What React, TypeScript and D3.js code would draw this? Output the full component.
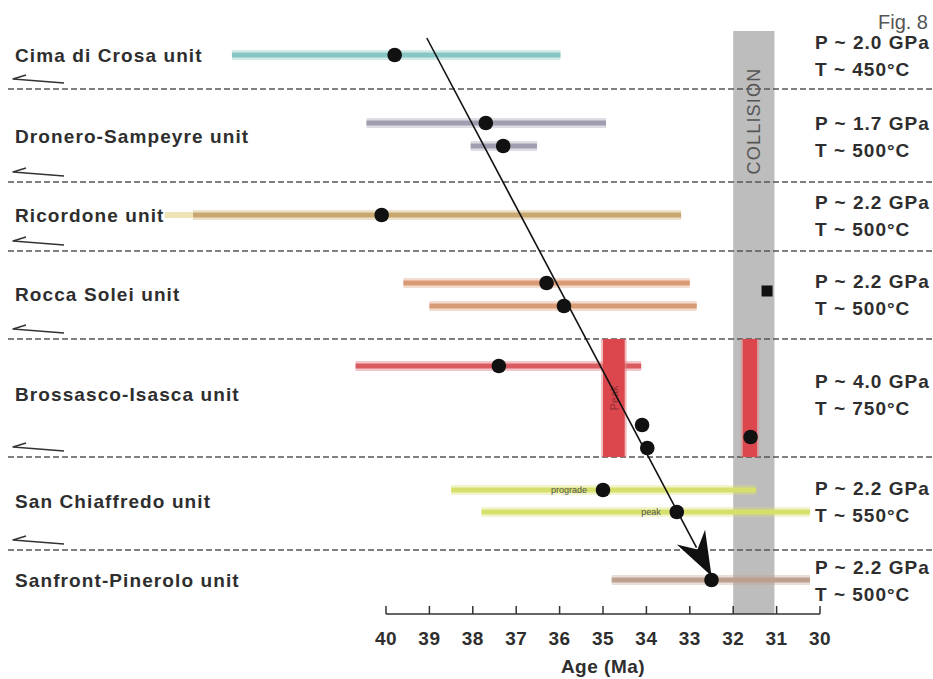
import React from "react";
import * as d3 from "d3";

// Tectonic units (top to bottom) with their peak P–T conditions
const units = [
  "Cima di Crosa unit",
  "Dronero-Sampeyre unit",
  "Ricordone unit",
  "Rocca Solei unit",
  "Brossasco-Isasca unit",
  "San Chiaffredo unit",
  "Sanfront-Pinerolo unit",
];
const pressures = ["2.0", "1.7", "2.2", "2.2", "4.0", "2.2", "2.2"];
const temperatures = [450, 500, 500, 500, 750, 550, 500];

// Age ranges (Ma): owning unit, oldest, youngest, best estimate
const rangeUnit = [0, 1, 1, 2, 3, 3, 4, 5, 5, 6];
const rangeOld = [43.55, 40.45, 38.05, 44.45, 39.6, 39.0, 40.7, 38.5, 37.8, 34.8];
const rangeYoung = [35.98, 34.93, 36.52, 33.2, 33.0, 32.84, 34.12, 31.47, 30.23, 30.23];
const rangeBest = [39.8, 37.7, 37.3, 40.1, 36.3, 35.9, 37.4, 35.0, 33.3, 32.5];
const rangeNote = ["", "", "", "", "", "", "", "prograde", "peak", ""];

// Isolated age determinations in the Brossasco-Isasca unit
const pointAges = [34.1, 33.98, 31.6];
// Square marker (Rocca Solei unit)
const squareAge = 31.22;
// Vertical age intervals spanning the Brossasco-Isasca unit
const intervalOld = [35.0, 31.78];
const intervalYoung = [34.5, 31.45];
// Collision interval
const collisionOld = 32.0;
const collisionYoung = 31.05;
// Exhumation trend arrow (start and end ages)
const trendStartAge = 39.06;
const trendEndAge = 32.5;

const ageTicks = [40, 39, 38, 37, 36, 35, 34, 33, 32, 31, 30];

// Layout
const W = 933;
const H = 679;
const sepY = [89, 182, 251, 339, 457, 550];
const rowCenter = [55, 136, 215, 294, 394, 501, 580];
const rangeY = [55, 123, 146, 215, 283, 306, 366, 490, 512, 580];
const pointY = [425, 448, 437];
const axisY = 614;
const bandTop = 31;

const barColors = [
  "#86c6c4",
  "#a19db0",
  "#a19db0",
  "#c9a86f",
  "#d99a76",
  "#d99a76",
  "#d95a60",
  "#d8e06c",
  "#d8e06c",
  "#bda08e",
];

const labelFont = "'Liberation Sans', Arial, sans-serif";

export default function App() {
  const x = d3.scaleLinear().domain([40, 30]).range([386, 820]);

  // trend arrow geometry
  const tx0 = x(trendStartAge);
  const ty0 = 38;
  const tx1 = x(trendEndAge);
  const ty1 = 576;
  const len = Math.hypot(tx1 - tx0, ty1 - ty0);
  const ux = (tx1 - tx0) / len;
  const uy = (ty1 - ty0) / len;
  const nx = -uy;
  const ny = ux;
  const headLen = 44;
  const headHalf = 16;
  const head = [
    [tx1, ty1],
    [tx1 - headLen * ux + headHalf * nx, ty1 - headLen * uy + headHalf * ny],
    [tx1 - 30 * ux, ty1 - 30 * uy],
    [tx1 - headLen * ux - headHalf * nx, ty1 - headLen * uy - headHalf * ny],
  ];
  const headPath = d3.line()(head as [number, number][]) + "Z";

  return (
    <svg width={W} height={H} style={{ display: "block", position: "absolute", left: 0, top: 0 }}>
      <rect width={W} height={H} fill="#ffffff" />

      {/* collision band */}
      <rect
        x={x(collisionOld)}
        y={bandTop}
        width={x(collisionYoung) - x(collisionOld)}
        height={axisY - bandTop}
        fill="#bdbdbd"
      />
      <text
        transform={`translate(${(x(collisionOld) + x(collisionYoung)) / 2 + 6},121) rotate(-90)`}
        textAnchor="middle"
        fontFamily={labelFont}
        fontSize={18}
        letterSpacing={1.2}
        fill="#555"
      >
        COLLISION
      </text>

      {/* unit separators with sense-of-shear harpoons */}
      {sepY.map((y, i) => (
        <g key={"sep" + i}>
          <line x1={8} x2={W} y1={y} y2={y} stroke="#555" strokeWidth={1.6} strokeDasharray="6 3" />
          <path
            d={`M26,${y - 14} L13,${y - 10} L64,${y - 6}`}
            fill="none"
            stroke="#333"
            strokeWidth={1.4}
            strokeLinejoin="round"
          />
        </g>
      ))}

      {/* age ranges */}
      {rangeUnit.map((u, i) => (
        <g key={"rg" + i}>
          <line
            x1={x(rangeOld[i])}
            x2={x(rangeYoung[i])}
            y1={rangeY[i]}
            y2={rangeY[i]}
            stroke={barColors[i]}
            strokeOpacity={0.35}
            strokeWidth={10}
          />
          <line
            x1={x(rangeOld[i])}
            x2={x(rangeYoung[i])}
            y1={rangeY[i]}
            y2={rangeY[i]}
            stroke={barColors[i]}
            strokeWidth={5}
          />
        </g>
      ))}
      {/* faint older tail of the Ricordone range */}
      <line x1={x(45.1)} x2={x(44.45)} y1={215} y2={215} stroke="#eee4b8" strokeWidth={6} />

      {/* vertical intervals */}
      {intervalOld.map((a, i) => (
        <g key={"iv" + i}>
          <rect
            x={x(a) - 2}
            y={sepY[3]}
            width={x(intervalYoung[i]) - x(a) + 4}
            height={sepY[4] - sepY[3]}
            fill="#e88a8c"
            opacity={0.55}
          />
          <rect
            x={x(a)}
            y={sepY[3]}
            width={x(intervalYoung[i]) - x(a)}
            height={sepY[4] - sepY[3]}
            fill="#dc474e"
          />
        </g>
      ))}
      <text
        transform={`translate(${(x(intervalOld[0]) + x(intervalYoung[0])) / 2 + 4},398) rotate(-90)`}
        textAnchor="middle"
        fontFamily={labelFont}
        fontSize={11}
        fill="#8e2f33"
      >
        Peak
      </text>

      {/* range notes */}
      {rangeNote.map((n, i) =>
        n ? (
          <text
            key={"nt" + i}
            x={x(rangeBest[i]) - 16}
            y={rangeY[i] + 3}
            textAnchor="end"
            fontFamily={labelFont}
            fontSize={9}
            fill="#555"
          >
            {n}
          </text>
        ) : null
      )}

      {/* trend arrow */}
      <line x1={tx0} y1={ty0} x2={tx1 - 32 * ux} y2={ty1 - 32 * uy} stroke="#111" strokeWidth={1.6} />
      <path d={headPath} fill="#111" />

      {/* best-estimate ages */}
      {rangeBest.map((a, i) => (
        <circle key={"bd" + i} cx={x(a)} cy={rangeY[i]} r={7.3} fill="#111" />
      ))}
      {pointAges.map((a, i) => (
        <circle key={"pt" + i} cx={x(a)} cy={pointY[i]} r={7.3} fill="#111" />
      ))}
      <rect x={x(squareAge) - 5.5} y={285.5} width={11} height={11} fill="#111" />

      {/* unit names */}
      {units.map((u, i) => (
        <text
          key={"un" + i}
          x={15}
          y={rowCenter[i]}
          dy="0.36em"
          fontFamily={labelFont}
          fontWeight="bold"
          fontSize={19}
          letterSpacing={1.1}
          fill="#2e2e2e"
        >
          {u}
        </text>
      ))}

      {/* P–T conditions */}
      {units.map((u, i) => (
        <g key={"pt" + i} fontFamily={labelFont} fontWeight="bold" fontSize={19} letterSpacing={1} fill="#2e2e2e">
          <text x={815} y={rowCenter[i] - 13} dy="0.36em">{`P ~ ${pressures[i]} GPa`}</text>
          <text x={815} y={rowCenter[i] + 14} dy="0.36em">{`T ~ ${temperatures[i]}°C`}</text>
        </g>
      ))}

      <text x={928} y={29} textAnchor="end" fontFamily={labelFont} fontSize={20} fill="#555">
        Fig. 8
      </text>

      {/* age axis */}
      <line x1={x(40)} x2={x(30)} y1={axisY} y2={axisY} stroke="#333" strokeWidth={1.5} />
      {ageTicks.map((t) => (
        <g key={"tk" + t}>
          <line x1={x(t)} x2={x(t)} y1={axisY} y2={axisY - 8} stroke="#333" strokeWidth={1.5} />
          <text
            x={x(t)}
            y={638}
            dy="0.36em"
            textAnchor="middle"
            fontFamily={labelFont}
            fontWeight="bold"
            fontSize={19}
            letterSpacing={0.5}
            fill="#2e2e2e"
          >
            {t}
          </text>
        </g>
      ))}
      <text
        x={(x(40) + x(30)) / 2}
        y={666}
        dy="0.36em"
        textAnchor="middle"
        fontFamily={labelFont}
        fontWeight="bold"
        fontSize={19}
        letterSpacing={0.5}
        fill="#2e2e2e"
      >
        Age (Ma)
      </text>
    </svg>
  );
}
